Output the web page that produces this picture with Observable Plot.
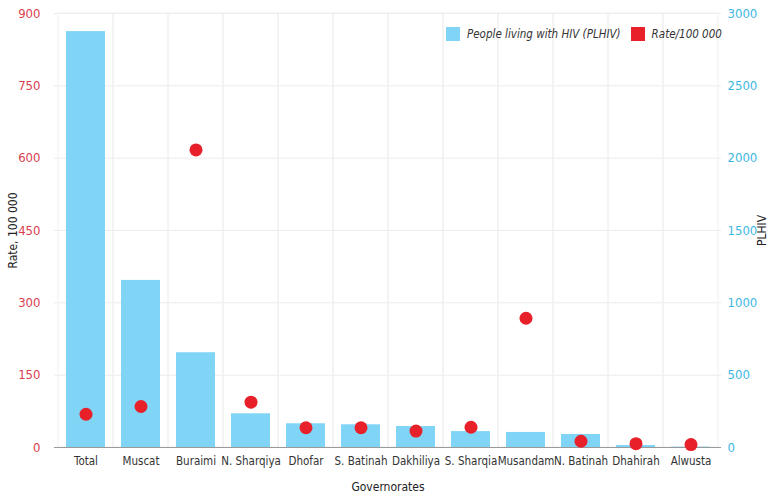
<!DOCTYPE html>
<html>
<head>
<meta charset="utf-8">
<script src="https://cdn.jsdelivr.net/npm/d3@7"></script>
<script src="https://cdn.jsdelivr.net/npm/@observablehq/plot@0.6"></script>
<style>
  body { margin: 0; background: #fff; }
  #wrap { position: relative; width: 776px; height: 500px; font-family: "DejaVu Sans", sans-serif; font-stretch: condensed; }
  #wrap svg text { font-stretch: condensed; }
  #legend { position: absolute; left: 446px; top: 27px; display: flex; align-items: center; font-size: 11.5px; font-style: italic; color: #333; font-stretch: condensed; }
  #legend .sw { width: 14px; height: 14px; display: inline-block; margin-right: 7px; }
</style>
</head>
<body>
<div id="wrap"><div id="legend"></div></div>
<script>
const categories = ["Total","Muscat","Buraimi","N. Sharqiya","Dhofar","S. Batinah","Dakhiliya","S. Sharqia","Musandam","N. Batinah","Dhahirah","Alwusta"];
const plhiv = [2875, 1155, 655, 233, 164, 157, 145, 110, 104, 90, 14, 3];
const rate = [69, 85, 617, 94, 41, 41, 34, 42, 268, 13, 8, 6];
const rateTicks = [0, 150, 300, 450, 600, 750, 900];
const plhivTicks = [0, 500, 1000, 1500, 2000, 2500, 3000];
const seriesNames = ["People living with HIV (PLHIV)", "Rate/100 000"];
const colors = ["#80d4f6", "#e8202a"];

const ratio = 900 / 3000;
const data = categories.map((c, i) => ({c, plhiv: plhiv[i], rate: rate[i]}));
const font = "'DejaVu Sans', sans-serif";

const chart = Plot.plot({
  width: 776, height: 500,
  marginLeft: 54, marginRight: 55, marginTop: 13, marginBottom: 53,
  style: {fontFamily: font, fontSize: "12px", background: "#fff", fontStretch: "condensed"},
  x: {domain: categories, padding: 0, label: null},
  y: {domain: [0, 900], label: null},
  marks: [
    Plot.ruleY(rateTicks, {stroke: "#ececec"}),
    Plot.barY(categories, {x: d => d, y1: 0, y2: 900, fill: "none", stroke: "#f0f0f0"}),
    Plot.barY(data, {x: "c", y: d => d.plhiv * ratio, fill: colors[0], insetLeft: 8, insetRight: 8}),
    Plot.ruleY([0], {stroke: "#9a9a9a"}),
    Plot.dot(data, {x: "c", y: "rate", r: 6.5, fill: colors[1], stroke: "none"}),
    Plot.axisX({tickSize: 0, tickPadding: 9, fill: "#333", fontSize: 11.5, label: null}),
    Plot.axisY(rateTicks, {anchor: "left", tickSize: 0, tickPadding: 14, fill: "#d9404e", fontSize: 13, label: null}),
    Plot.axisY(rateTicks, {anchor: "right", tickSize: 0, tickPadding: 6, fill: "#3db8e2", fontSize: 13, label: null,
      tickFormat: d => String(Math.round(d / ratio))}),
    Plot.text(["Rate, 100 000"], {frameAnchor: "left", rotate: -90, dx: -41, fill: "#222", fontSize: 12, textAnchor: "middle"}),
    Plot.text(["PLHIV"], {frameAnchor: "right", rotate: -90, dx: 41, fill: "#222", fontSize: 12, textAnchor: "middle"}),
    Plot.text(["Governorates"], {frameAnchor: "bottom", dy: 43, fill: "#222", fontSize: 12})
  ]
});
document.getElementById("wrap").prepend(chart);

const legend = document.getElementById("legend");
seriesNames.forEach((n, i) => {
  const item = document.createElement("span");
  item.style.display = "inline-flex";
  item.style.alignItems = "center";
  item.style.marginRight = i === 0 ? "10px" : "0";
  item.innerHTML = `<span class="sw" style="background:${colors[i]}"></span>${n}`;
  legend.appendChild(item);
});
chart.style.position = "absolute"; chart.style.left = "0"; chart.style.top = "0";
</script>
</body>
</html>
